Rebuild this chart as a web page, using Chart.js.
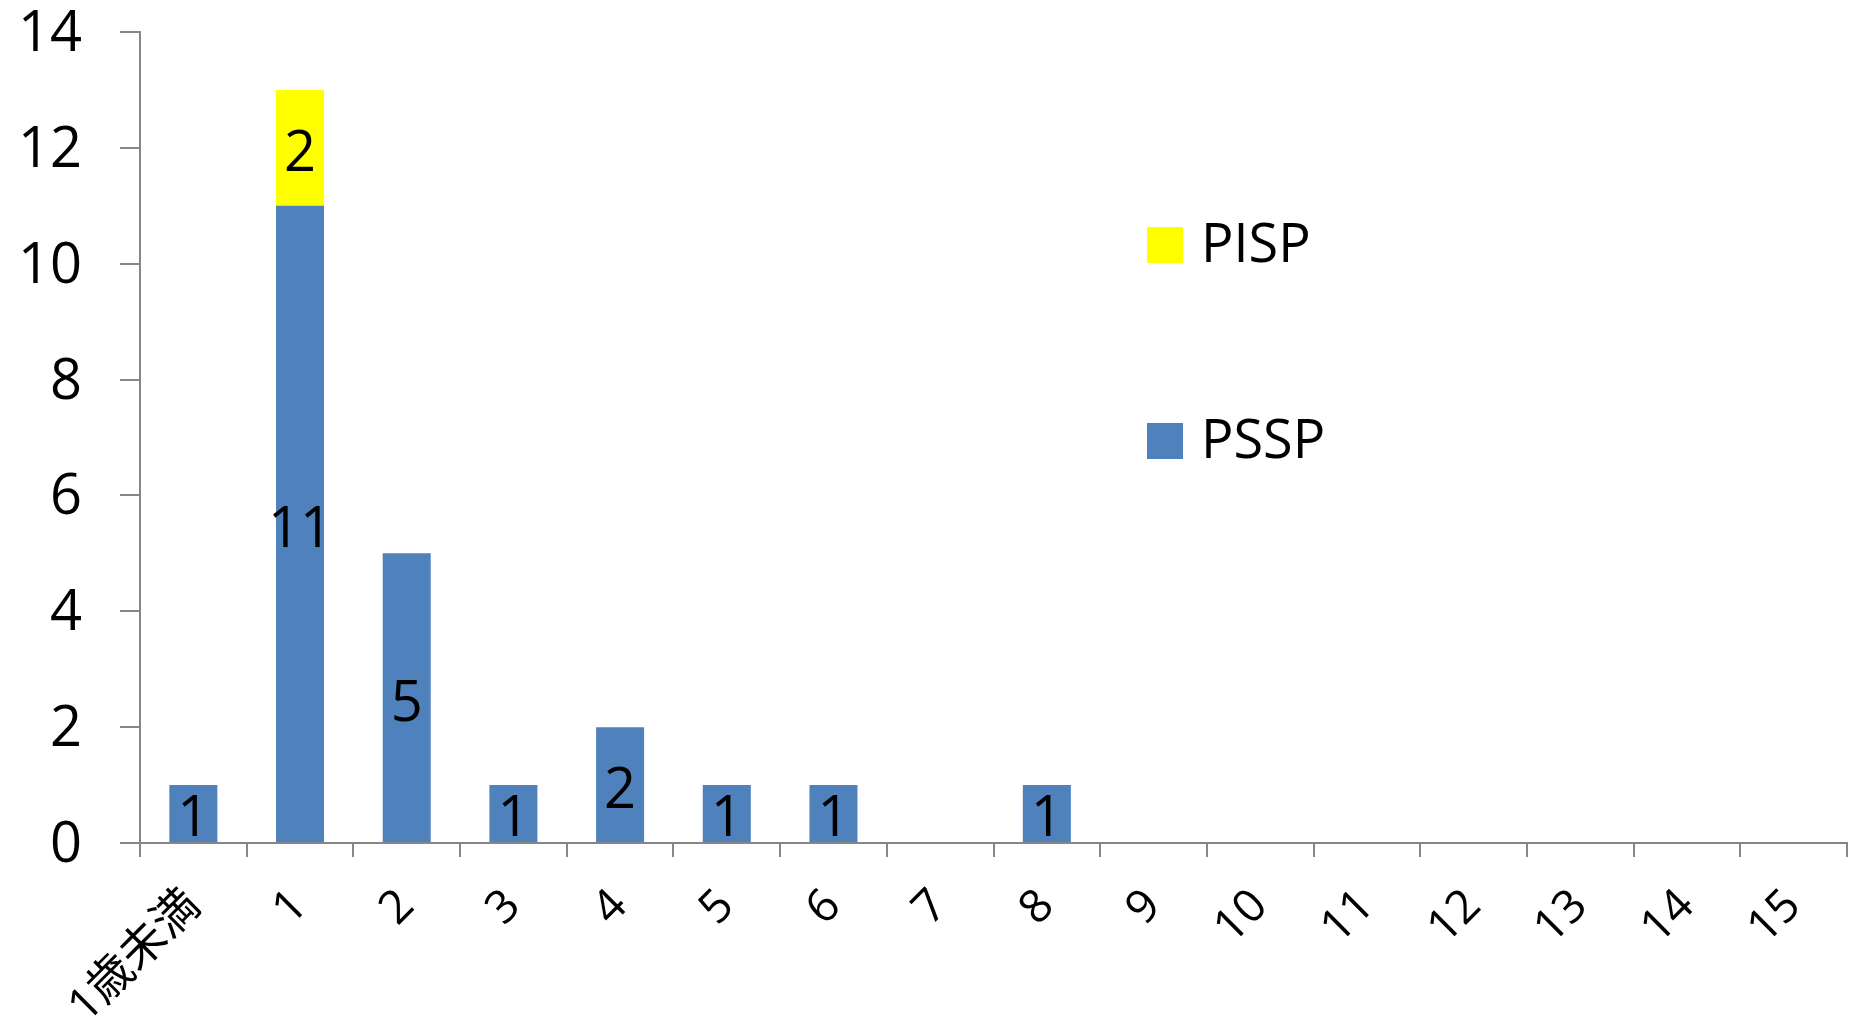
<!DOCTYPE html>
<html>
<head>
<meta charset="utf-8">
<script src="https://cdn.jsdelivr.net/npm/chart.js@4"></script>
<style>
  html, body { margin: 0; padding: 0; background: #fff; }
  #wrap { width: 1860px; height: 1025px; }
</style>
</head>
<body>
<div id="wrap"><canvas id="ageChart"></canvas></div>
<script>
// ====== datos ======
const ageLabels = ["1歳未満", "1", "2", "3", "4", "5", "6", "7", "8", "9", "10", "11", "12", "13", "14", "15"];
const psspValues = [1, 11, 5, 1, 2, 1, 1, 0, 1, 0, 0, 0, 0, 0, 0, 0];
const pispValues = [0, 2, 0, 0, 0, 0, 0, 0, 0, 0, 0, 0, 0, 0, 0, 0];
const legendOrder = ["PISP", "PSSP"];

const FONT = "'Open Sans', 'Noto Sans CJK JP', sans-serif";
const AXIS_GRAY = "#868686";

// etiquetas dentro de cada barra (centradas)
const barLabels = {
    id: "barLabels",
    afterDatasetsDraw(chart) {
        const ctx = chart.ctx;
        ctx.save();
        ctx.font = "56px " + FONT;
        ctx.fillStyle = "#000";
        ctx.textAlign = "center";
        ctx.textBaseline = "middle";
        chart.data.datasets.forEach((ds, i) => {
            const meta = chart.getDatasetMeta(i);
            meta.data.forEach((bar, j) => {
                const v = ds.data[j];
                if (!v) return;
                ctx.fillText(String(v), bar.x, (bar.y + bar.base) / 2 + 7);
            });
        });
        ctx.restore();
    }
};

// leyenda flotante a la derecha, como en Excel
const floatLegend = {
    id: "floatLegend",
    afterDraw(chart, args, opts) {
        const ctx = chart.ctx;
        ctx.save();
        ctx.font = "54px " + FONT;
        ctx.textBaseline = "middle";
        ctx.textAlign = "left";
        legendOrder.forEach((name, k) => {
            const ds = chart.data.datasets.find(d => d.label === name);
            const cy = opts.top + k * opts.gap;
            ctx.fillStyle = ds.backgroundColor;
            ctx.fillRect(opts.left, cy - opts.box / 2, opts.box, opts.box);
            ctx.fillStyle = "#000";
            ctx.fillText(name, opts.left + opts.box + 18, cy + 2);
        });
        ctx.restore();
    }
};

new Chart(document.getElementById("ageChart"), {
    type: "bar",
    data: {
        labels: ageLabels,
        datasets: [
            { label: "PSSP", data: psspValues, backgroundColor: "#4F81BD" },
            { label: "PISP", data: pispValues, backgroundColor: "#FFFF00" }
        ]
    },
    options: {
        responsive: true,
        maintainAspectRatio: false,
        animation: false,
        layout: { padding: { top: 32, right: 13, left: 0, bottom: 0 } },
        datasets: {
            bar: { barPercentage: 0.45, categoryPercentage: 1.0 }
        },
        plugins: {
            legend: { display: false },
            tooltip: { enabled: false },
            floatLegend: { left: 1147, top: 245, gap: 196, box: 36 }
        },
        scales: {
            x: {
                stacked: true,
                grid: { offset: true, drawOnChartArea: false, drawTicks: true, tickLength: 14, color: AXIS_GRAY, lineWidth: 2 },
                border: { color: AXIS_GRAY, width: 2 },
                ticks: {
                    autoSkip: false,
                    minRotation: 45,
                    maxRotation: 45,
                    padding: 22,
                    color: "#000",
                    font: { family: FONT, size: 46 }
                },
                afterFit(scale) {
                    scale.height = 182;
                    scale.paddingTop = 0; scale.paddingBottom = 0;
                    scale.paddingLeft = 0; scale.paddingRight = 0;
                }
            },
            y: {
                stacked: true,
                min: 0,
                max: 14,
                grid: { drawOnChartArea: false, drawTicks: true, tickLength: 20, color: AXIS_GRAY, lineWidth: 2 },
                border: { color: AXIS_GRAY, width: 2 },
                ticks: {
                    stepSize: 2,
                    padding: 38,
                    labelOffset: 3,
                    color: "#000",
                    font: { family: FONT, size: 56 }
                },
                afterFit(scale) {
                    scale.width = 140;
                    scale.paddingTop = 0; scale.paddingBottom = 0;
                    scale.paddingLeft = 0; scale.paddingRight = 0;
                }
            }
        }
    },
    plugins: [barLabels, floatLegend]
});
</script>
</body>
</html>
